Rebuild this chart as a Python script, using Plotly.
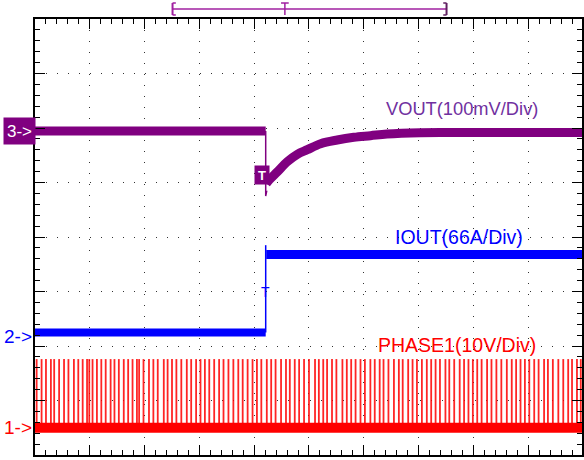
import plotly.graph_objects as go

# ---- data (time in divisions, amplitude in divisions) ----
VOUT_PRE_T = [0.0, 4.21]
VOUT_PRE_V = [1.945, 1.945]
VOUT_STEP_T = [4.21, 4.21, 4.23]
VOUT_STEP_V = [1.945, 0.752, 0.85]
VOUT_REC_T = [4.22, 4.273, 4.424, 4.605, 4.787, 4.969, 5.213, 5.515, 5.818, 6.122, 6.424, 7.031, 7.636, 9.982]
VOUT_REC_V = [0.98, 1.046, 1.198, 1.382, 1.517, 1.602, 1.712, 1.780, 1.829, 1.859, 1.890, 1.914, 1.917, 1.917]

IOUT_PRE_T = [0.0, 4.21]
IOUT_PRE_V = [-1.752, -1.752]
IOUT_STEP_T = [4.21, 4.21]
IOUT_STEP_V = [-1.752, -0.15]
IOUT_POST_T = [4.22, 9.982]
IOUT_POST_V = [-0.321, -0.321]

PHASE_BASE_T = [0.0, 9.982]
PHASE_BASE_V = [-3.50, -3.50]
PULSE_TOP = -2.24
PULSE_TIMES = [
    0.03, 0.12, 0.20, 0.29, 0.35, 0.44, 0.53, 0.61, 0.71, 0.79, 0.87, 0.95, 0.99, 1.05,
    1.13, 1.21, 1.29, 1.38, 1.45, 1.53, 1.62, 1.70, 1.78, 1.86, 1.90, 1.98, 2.08, 2.16,
    2.24, 2.35, 2.42, 2.50, 2.58, 2.67, 2.77, 2.85, 2.94, 3.02, 3.10, 3.18, 3.27, 3.36,
    3.44, 3.53, 3.62, 3.71, 3.79, 3.88, 3.97, 4.05, 4.13, 4.23, 4.31, 4.39, 4.49, 4.58,
    4.65, 4.74, 4.82, 4.91, 5.00, 5.11, 5.18, 5.26, 5.33, 5.42, 5.50, 5.61, 5.69, 5.77,
    5.85, 5.94, 6.02, 6.12, 6.20, 6.29, 6.36, 6.45, 6.55, 6.64, 6.71, 6.81, 6.89, 6.97,
    7.06, 7.15, 7.23, 7.31, 7.39, 7.49, 7.56, 7.65, 7.75, 7.83, 7.91, 7.99, 8.07, 8.15,
    8.25, 8.33, 8.42, 8.51, 8.61, 8.70, 8.78, 8.86, 8.94, 9.02, 9.11, 9.19, 9.29, 9.36,
    9.45, 9.55, 9.64, 9.73, 9.80, 9.89, 9.96,
]

LABELS = ["VOUT(100mV/Div)", "IOUT(66A/Div)", "PHASE1(10V/Div)"]
CH_MARKERS = ["3->", "2->", "1->"]

PURPLE = "#800080"
BLUE = "#0000FF"
RED = "#FF0000"
FONT = "Liberation Sans, Arial, sans-serif"

fig = go.Figure()

# PHASE1 pulses
px, py = [], []
for t in PULSE_TIMES:
    px += [t, t, None]
    py += [PHASE_BASE_V[0], PULSE_TOP, None]
fig.add_trace(go.Scatter(x=px, y=py, mode="lines", line=dict(color=RED, width=1.8),
                         opacity=0.85, hoverinfo="skip"))
fig.add_trace(go.Scatter(x=PHASE_BASE_T, y=PHASE_BASE_V, mode="lines",
                         line=dict(color=RED, width=10)))

# IOUT
fig.add_trace(go.Scatter(x=IOUT_STEP_T, y=IOUT_STEP_V, mode="lines", line=dict(color=BLUE, width=1.5)))
fig.add_trace(go.Scatter(x=IOUT_PRE_T, y=IOUT_PRE_V, mode="lines", line=dict(color=BLUE, width=8)))
fig.add_trace(go.Scatter(x=IOUT_POST_T, y=IOUT_POST_V, mode="lines", line=dict(color=BLUE, width=9)))

# VOUT
fig.add_trace(go.Scatter(x=VOUT_STEP_T, y=VOUT_STEP_V, mode="lines", line=dict(color=PURPLE, width=1.5)))
fig.add_trace(go.Scatter(x=VOUT_PRE_T, y=VOUT_PRE_V, mode="lines", line=dict(color=PURPLE, width=9)))
fig.add_trace(go.Scatter(x=VOUT_REC_T, y=VOUT_REC_V, mode="lines", line=dict(color=PURPLE, width=9, shape="spline")))

axis_common = dict(
    showline=True, linecolor="black", linewidth=2, mirror="ticks",
    ticks="inside", ticklen=10, tickwidth=1, tickcolor="black",
    showticklabels=False, zeroline=False,
    showgrid=True, gridcolor="#333333", gridwidth=1, griddash="1px,10px",
    dtick=1, tick0=0,
    minor=dict(dtick=0.2, tick0=0, ticks="inside", ticklen=5, tickwidth=1,
               tickcolor="black", showgrid=False),
)
fig.update_xaxes(range=[0, 9.982], **axis_common)
fig.update_yaxes(range=[-4, 4], **axis_common)

ann = []
# channel text labels
ann.append(dict(xref="x", x=7.8, y=2.367, text=LABELS[0], font=dict(color="#7030A0", size=18.3, family=FONT)))
ann.append(dict(xref="x", x=7.745, y=0.0, text=LABELS[1], font=dict(color=BLUE, size=19.5, family=FONT)))
ann.append(dict(xref="x", x=7.7, y=-1.98, text=LABELS[2], font=dict(color=RED, size=19.5, family=FONT)))
# channel markers on the left (paper x so they are not hidden outside the range)
ann.append(dict(xref="paper", x=-0.0282, y=VOUT_PRE_V[0], text=CH_MARKERS[0],
                font=dict(color="white", size=17, family=FONT), bgcolor=PURPLE, width=29, height=24))
ann.append(dict(xref="paper", x=-0.031, y=IOUT_PRE_V[0] - 0.08, text=CH_MARKERS[1],
                font=dict(color=BLUE, size=19, family=FONT)))
ann.append(dict(xref="paper", x=-0.031, y=PHASE_BASE_V[0], text=CH_MARKERS[2],
                font=dict(color=RED, size=19, family=FONT)))
# trigger markers
ann.append(dict(xref="x", x=4.135, y=1.143, text="<b>T</b>", font=dict(color="white", size=13, family=FONT),
                bgcolor=PURPLE, width=12, height=16))
ann.append(dict(xref="x", x=4.21, y=-1.0, text="T", font=dict(color=BLUE, size=14, family=FONT)))
for a in ann:
    a.update(yref="y", showarrow=False, xanchor="center", yanchor="middle")

# timebase bar at top
TB = "#A020A0"
shapes = [
    dict(type="line", xref="x", yref="paper", x0=2.51, x1=7.51, y0=1.0229, y1=1.0229, line=dict(color=TB, width=1.5)),
    dict(type="line", xref="x", yref="paper", x0=2.51, x1=2.51, y0=1.0092, y1=1.0367, line=dict(color=TB, width=2)),
    dict(type="line", xref="x", yref="paper", x0=2.51, x1=2.57, y0=1.0367, y1=1.0367, line=dict(color=TB, width=1.5)),
    dict(type="line", xref="x", yref="paper", x0=2.51, x1=2.57, y0=1.0092, y1=1.0092, line=dict(color=TB, width=1.5)),
    dict(type="line", xref="x", yref="paper", x0=7.51, x1=7.51, y0=1.0092, y1=1.0367, line=dict(color="#602060", width=2)),
    dict(type="line", xref="x", yref="paper", x0=7.45, x1=7.51, y0=1.0367, y1=1.0367, line=dict(color="#602060", width=1.5)),
    dict(type="line", xref="x", yref="paper", x0=7.45, x1=7.51, y0=1.0092, y1=1.0092, line=dict(color="#602060", width=1.5)),
    dict(type="line", xref="x", yref="paper", x0=4.56, x1=4.56, y0=1.0092, y1=1.0367, line=dict(color=TB, width=1.5)),
    dict(type="line", xref="x", yref="paper", x0=4.49, x1=4.63, y0=1.0367, y1=1.0367, line=dict(color=TB, width=1.5)),
]

fig.update_layout(
    width=584, height=460,
    margin=dict(l=35, r=0, t=19, b=5),
    plot_bgcolor="white", paper_bgcolor="white",
    showlegend=False,
    annotations=ann, shapes=shapes,
    font=dict(family=FONT),
)

fig.write_html("out.html", config={"displayModeBar": False},
               post_script="document.body.style.margin='0';")
